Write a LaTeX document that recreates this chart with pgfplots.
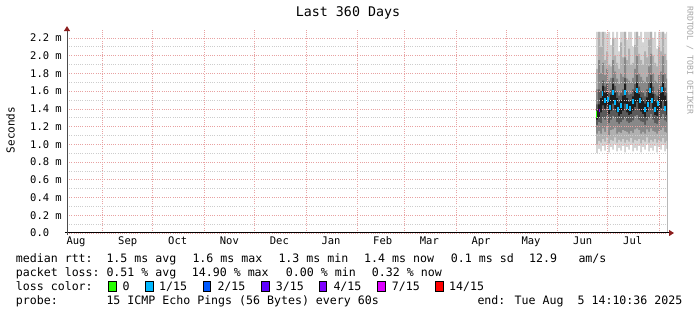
\documentclass[border=0pt]{standalone}
\usepackage{pgfplots}
\pgfplotsset{compat=1.18}
\usepackage{pgfplotstable}
\usepackage{fontspec}
\setmainfont{DejaVu Sans Mono}
\usetikzlibrary{arrows.meta}
\definecolor{mgrid}{RGB}{232,162,162}
\definecolor{ngrid}{RGB}{205,205,205}
\definecolor{arrowred}{RGB}{140,30,30}
\definecolor{g1}{RGB}{211,211,211}
\definecolor{g2}{RGB}{176,176,176}
\definecolor{g3}{RGB}{136,136,136}
\definecolor{g4}{RGB}{90,90,90}
\definecolor{g5}{RGB}{30,30,30}
\definecolor{c0}{HTML}{26FF00}
\definecolor{c1}{HTML}{00B8FF}
\definecolor{c2}{HTML}{0059FF}
\definecolor{c3}{HTML}{5E00FF}
\definecolor{c4}{HTML}{7E00FF}
\definecolor{c7}{HTML}{DD00FF}
\definecolor{c14}{HTML}{FF0000}
\newcommand\lf{\fontsize{11.6bp}{14bp}\selectfont}
\newcommand\tf{\fontsize{10.5bp}{12bp}\selectfont}

% smoke bands: x (days since 1 Sep 2024), lower/upper bound of each band
\pgfplotstableread{
x a1 b1 a2 b2 a3 b3 a4 b4 a5 b5
296.0 0.90 2.27 1.00 1.85 1.12 1.62 1.22 1.45 1.28 1.38
297.2 0.95 2.27 1.04 2.27 1.15 1.95 1.25 1.62 1.30 1.45
298.4 0.92 2.27 1.02 2.10 1.12 1.80 1.24 1.60 1.36 1.52
299.6 0.98 2.27 1.06 2.27 1.18 1.92 1.30 1.72 1.44 1.66
300.8 0.93 2.27 1.03 1.95 1.14 1.78 1.28 1.65 1.40 1.58
302.0 0.99 2.25 1.08 2.05 1.20 1.85 1.32 1.68 1.44 1.60
303.2 0.91 2.27 1.01 1.90 1.10 1.72 1.24 1.58 1.34 1.50
304.4 0.97 2.12 1.05 1.88 1.16 1.75 1.28 1.62 1.38 1.56
305.6 0.94 2.27 1.04 2.20 1.17 1.95 1.32 1.75 1.46 1.68
306.8 1.00 2.20 1.08 2.00 1.19 1.82 1.30 1.66 1.40 1.58
308.0 0.92 2.27 1.02 1.92 1.12 1.74 1.25 1.60 1.36 1.52
309.2 0.96 2.05 1.05 1.85 1.14 1.68 1.23 1.55 1.32 1.47
310.4 0.93 2.27 1.03 2.15 1.13 1.80 1.25 1.58 1.34 1.50
311.6 0.98 2.27 1.06 1.98 1.16 1.76 1.28 1.62 1.38 1.55
312.8 0.91 2.27 1.02 2.27 1.15 1.98 1.30 1.75 1.46 1.68
314.0 0.97 2.18 1.05 1.95 1.14 1.74 1.26 1.60 1.36 1.52
315.2 0.94 2.27 1.03 2.08 1.12 1.72 1.24 1.56 1.33 1.48
316.4 0.99 2.27 1.07 1.90 1.15 1.70 1.25 1.57 1.34 1.49
317.6 0.92 2.10 1.02 1.92 1.13 1.75 1.27 1.62 1.38 1.54
318.8 0.96 2.27 1.05 2.12 1.17 1.85 1.32 1.68 1.42 1.60
320.0 0.93 2.27 1.04 2.27 1.18 2.00 1.33 1.78 1.48 1.70
321.2 0.98 2.22 1.06 2.02 1.16 1.80 1.28 1.65 1.40 1.57
322.4 0.91 2.27 1.01 1.95 1.12 1.76 1.26 1.60 1.37 1.53
323.6 0.97 2.15 1.05 1.90 1.14 1.72 1.25 1.58 1.34 1.50
324.8 0.94 2.27 1.03 2.05 1.12 1.70 1.22 1.54 1.31 1.46
326.0 1.00 2.27 1.08 1.98 1.17 1.76 1.27 1.62 1.37 1.53
327.2 0.92 2.27 1.02 2.18 1.14 1.88 1.30 1.70 1.42 1.60
328.4 0.96 2.27 1.05 2.27 1.18 2.02 1.34 1.78 1.48 1.70
329.6 0.93 2.20 1.03 2.00 1.15 1.80 1.28 1.65 1.40 1.57
330.8 0.98 2.27 1.06 1.92 1.14 1.72 1.24 1.57 1.33 1.49
332.0 0.91 2.08 1.02 1.88 1.12 1.70 1.23 1.55 1.32 1.47
333.2 0.97 2.27 1.05 2.10 1.15 1.78 1.27 1.62 1.38 1.54
334.4 0.94 2.27 1.03 2.05 1.16 1.82 1.29 1.66 1.41 1.58
335.6 0.99 2.27 1.07 2.27 1.19 2.00 1.34 1.78 1.49 1.70
336.8 0.92 2.25 1.02 2.02 1.14 1.80 1.27 1.64 1.38 1.55
338.0 0.95 2.27 1.04 1.95 1.13 1.74 1.25 1.58 1.33 1.49
338.6 0.95 2.27 1.04 1.95 1.13 1.74 1.25 1.58 1.33 1.49
}\smoke

% median rtt (visible 1/15-loss segments)
\pgfplotstableread{
x y
300.0 1.57
301.4 1.50
303.2 1.51
304.4 1.42
306.2 1.59
307.4 1.47
309.2 1.39
311.0 1.44
313.4 1.59
314.6 1.43
316.4 1.41
318.2 1.48
320.6 1.61
322.4 1.49
325.4 1.39
327.2 1.45
328.4 1.61
329.6 1.49
331.4 1.39
333.2 1.46
335.6 1.62
337.4 1.41
}\med

\begin{document}
\begin{tikzpicture}
\fill[white] (-67bp,-82bp) rectangle (630bp,233bp);
\useasboundingbox (-67bp,-82bp) rectangle (630bp,233bp);
\begin{axis}[
  at={(0bp,0bp)}, anchor=south west,
  scale only axis, width=600bp, height=203.9bp,
  xmin=-21.41, xmax=338.59, ymin=0, ymax=2.3,
  axis on top,
  axis x line*=bottom, axis y line*=left,
  x axis line style={black, line width=1bp, shorten <=-2bp, shorten >=-7bp,
     -{Triangle[length=5bp,width=6bp,color=arrowred]}},
  y axis line style={black!70, line width=1bp, shorten <=-2bp, shorten >=-3bp,
     -{Triangle[length=5bp,width=6bp,color=arrowred]}},
  xtick={0,30,61,91,122,153,181,212,242,273,303,334},
  xticklabels={},
  extra x ticks={-16,15,45,76,106,137,168,196,227,257,288,318},
  extra x tick labels={Aug,Sep,Oct,Nov,Dec,Jan,Feb,Mar,Apr,May,Jun,Jul},
  extra x tick style={grid=none, major tick length=0pt},
  ytick={0,0.2,0.4,0.6,0.8,1.0,1.2,1.4,1.6,1.8,2.0,2.2},
  yticklabels={0.0,0.2 m,0.4 m,0.6 m,0.8 m,1.0 m,1.2 m,1.4 m,1.6 m,1.8 m,2.0 m,2.2 m},
  minor y tick num=1,
  major tick length=0pt, minor tick length=0pt,
  xmajorgrids, ymajorgrids, yminorgrids,
  major grid style={draw=mgrid, line width=0.7bp, dash pattern=on 1bp off 1.2bp},
  minor grid style={draw=ngrid, line width=0.7bp, dash pattern=on 1bp off 1.2bp},
  yticklabel style={anchor=west, xshift=-37bp, inner sep=0pt, font=\tf},
  xticklabel style={anchor=base, yshift=-12bp, inner sep=0pt, font=\tf},
  clip=true,
]
\addplot[fill=g1, draw=none, const plot] table[x=x,y=b1]{\smoke} \closedcycle;
\addplot[fill=g2, draw=none, const plot] table[x=x,y=b2]{\smoke} \closedcycle;
\addplot[fill=g3, draw=none, const plot] table[x=x,y=b3]{\smoke} \closedcycle;
\addplot[fill=g4, draw=none, const plot] table[x=x,y=b4]{\smoke} \closedcycle;
\addplot[fill=g5, draw=none, const plot] table[x=x,y=b5]{\smoke} \closedcycle;
\addplot[fill=g4, draw=none, const plot] table[x=x,y=a5]{\smoke} \closedcycle;
\addplot[fill=g3, draw=none, const plot] table[x=x,y=a4]{\smoke} \closedcycle;
\addplot[fill=g2, draw=none, const plot] table[x=x,y=a3]{\smoke} \closedcycle;
\addplot[fill=g1, draw=none, const plot] table[x=x,y=a2]{\smoke} \closedcycle;
\addplot[fill=white, draw=none, const plot] table[x=x,y=a1]{\smoke} \closedcycle;
\addplot[only marks, mark=|, mark size=2.5bp, color=c1, mark options={line width=1.6bp}] table[x=x,y=y]{\med};
\addplot[only marks, mark=|, mark size=3.5bp, color=c0, mark options={line width=1.2bp}] coordinates {(296.4,1.34)};
\addplot[only marks, mark=|, mark size=1.5bp, color=c4, mark options={line width=1.4bp}] coordinates {(298.0,1.38)};
\end{axis}

% title and side texts
\node[anchor=base, inner sep=0pt, font=\fontsize{13.3bp}{15bp}\selectfont] at (281bp,216.3bp) {Last 360 Days};
\node[rotate=90, inner sep=0pt, font=\fontsize{11bp}{13bp}\selectfont] at (-56.5bp,103bp) {Seconds};
\node[rotate=-90, inner sep=0pt, text=black!35, font=\fontsize{8.2bp}{10bp}\selectfont] at (623bp,172.5bp) {RRDTOOL / TOBI OETIKER};

% legend block
\begin{scope}[every node/.style={anchor=base west, inner sep=0pt, font=\lf}]
\node at (-51.3bp,-29.7bp) {median rtt:};
\node at (39.3bp,-29.7bp) {1.5 ms avg};
\node at (125.3bp,-29.7bp) {1.6 ms max};
\node at (211.3bp,-29.7bp) {1.3 ms min};
\node at (297bp,-29.7bp) {1.4 ms now};
\node at (383.7bp,-29.7bp) {0.1 ms sd};
\node at (462bp,-29.7bp) {12.9};
\node at (511.3bp,-29.7bp) {am/s};

\node at (-51.3bp,-43.7bp) {packet loss:};
\node at (39.3bp,-43.7bp) {0.51 \% avg};
\node at (124.7bp,-43.7bp) {14.90 \% max};
\node at (218.7bp,-43.7bp) {0.00 \% min};
\node at (304.7bp,-43.7bp) {0.32 \% now};

\node at (-51.3bp,-57.7bp) {loss color:};
\node at (55.3bp,-57.7bp) {0};
\node at (92bp,-57.7bp) {1/15};
\node at (150.3bp,-57.7bp) {2/15};
\node at (208.7bp,-57.7bp) {3/15};
\node at (266.3bp,-57.7bp) {4/15};
\node at (324.7bp,-57.7bp) {7/15};
\node at (382bp,-57.7bp) {14/15};

\node at (-51.3bp,-71.3bp) {probe:};
\node at (39.3bp,-71.3bp) {15 ICMP Echo Pings (56 Bytes) every 60s};
\node at (410.3bp,-71.3bp) {end: Tue Aug\ \ 5 14:10:36 2025};
\end{scope}
\begin{scope}[line width=0.8bp]
\draw[fill=c0]  (41.5bp,-58.5bp) rectangle ++(7.5bp,10bp);
\draw[fill=c1]  (78.7bp,-58.5bp) rectangle ++(7.5bp,10bp);
\draw[fill=c2]  (136.3bp,-58.5bp) rectangle ++(7.5bp,10bp);
\draw[fill=c3]  (194.7bp,-58.5bp) rectangle ++(7.5bp,10bp);
\draw[fill=c4]  (252.3bp,-58.5bp) rectangle ++(7.5bp,10bp);
\draw[fill=c7]  (310.7bp,-58.5bp) rectangle ++(7.5bp,10bp);
\draw[fill=c14] (368.7bp,-58.5bp) rectangle ++(7.5bp,10bp);
\end{scope}
\end{tikzpicture}
\end{document}
